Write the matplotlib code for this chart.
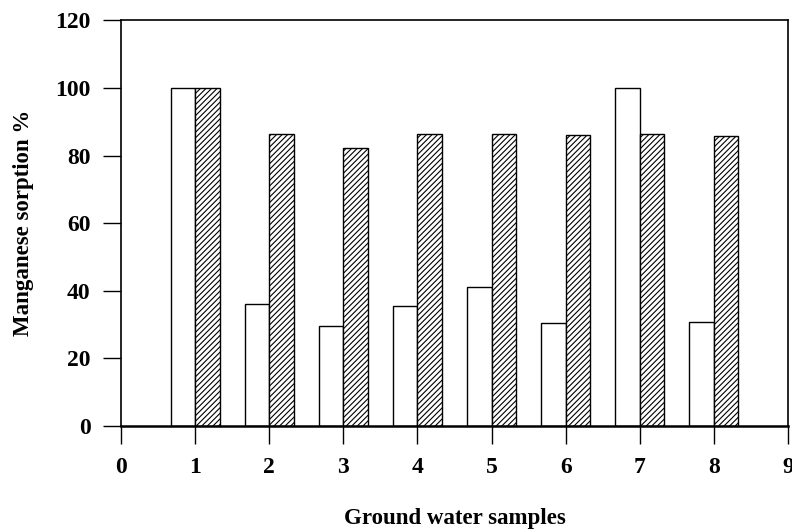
import matplotlib.pyplot as plt
import numpy as np

samples = [1, 2, 3, 4, 5, 6, 7, 8]
plain = [100, 36.0, 29.5, 35.4, 41.2, 30.4, 100, 30.9]
hatched = [100, 86.5, 82.2, 86.5, 86.5, 86.1, 86.4, 85.8]

plt.rcParams['font.family'] = 'Liberation Serif'
plt.rcParams['font.weight'] = 'bold'
plt.rcParams['hatch.linewidth'] = 0.8

fig = plt.figure(figsize=(7.92, 5.31), dpi=100)
ax = fig.add_axes([0.1528, 0.1977, 0.8422, 0.7637])

x = np.array(samples)
w = 0.33
ax.bar(x - w, plain, width=w, align='edge', color='white', edgecolor='black', linewidth=1)
ax.bar(x, hatched, width=w, align='edge', color='white', edgecolor='black', linewidth=1, hatch='//////')

ax.set_xlim(0, 9)
ax.set_ylim(0, 120)
ax.set_xticks(range(0, 10))
ax.set_yticks(range(0, 121, 20))
ax.tick_params(axis='both', direction='out', length=13, width=1, labelsize=17, pad=9)
for lab in ax.get_xticklabels() + ax.get_yticklabels():
    lab.set_fontweight('bold')

for s in ['top', 'right', 'left']:
    ax.spines[s].set_linewidth(1.2)
ax.spines['bottom'].set_linewidth(1.8)

ax.set_xlabel('Ground water samples', fontsize=16.5, fontweight='bold', labelpad=22)
ax.set_ylabel('Manganese sorption %', fontsize=16.5, fontweight='bold', labelpad=15)

fig.savefig('out.png', dpi=100)
